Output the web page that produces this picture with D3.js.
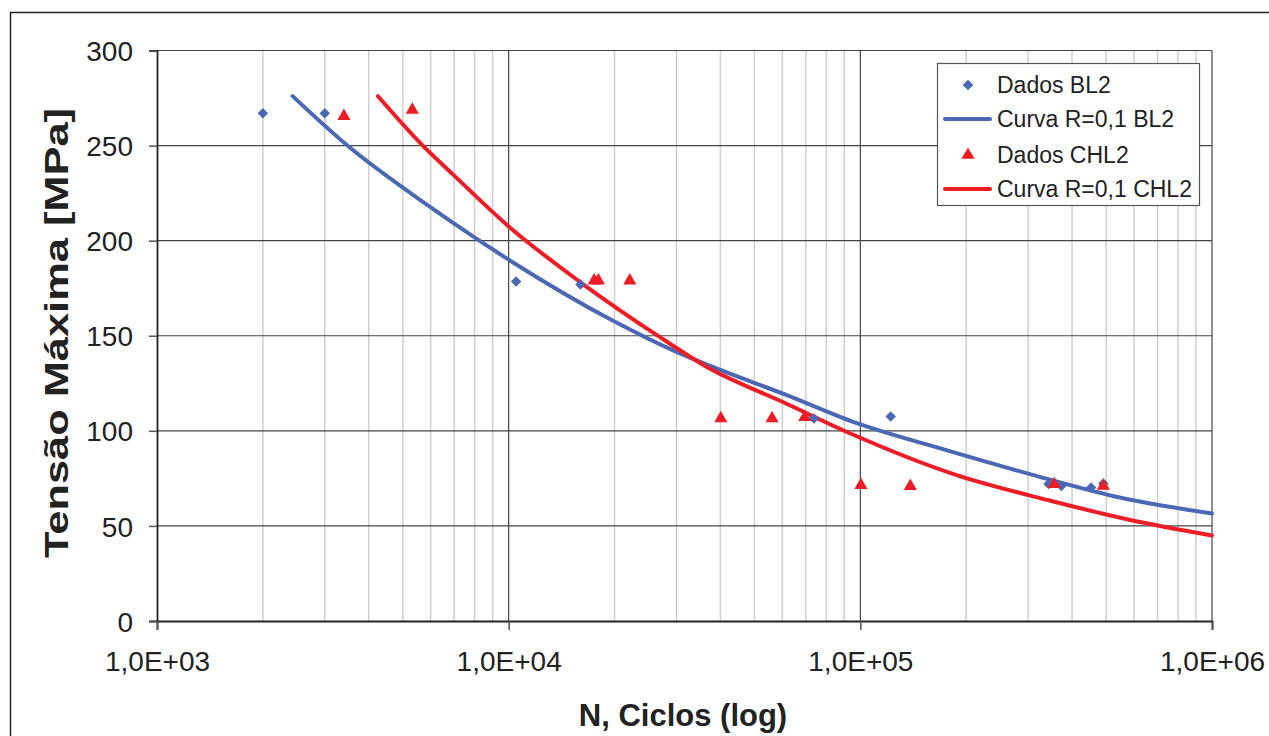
<!DOCTYPE html>
<html>
<head>
<meta charset="utf-8">
<script src="https://cdnjs.cloudflare.com/ajax/libs/d3/7.8.5/d3.min.js"></script>
<style>
    body { margin: 0; background: #fff; }
    svg text { font-family: "Liberation Sans", Arial, sans-serif; fill: #222; }
</style>
</head>
<body>
<div class="chart"></div>
<script>
// Dados (N ciclos, tensão MPa)
var dadosBL2 = [
    [2000, 267], [3000, 267], [10500, 178.5], [16000, 177],
    [73800, 106.5], [122000, 107.5], [343000, 72], [373000, 71],
    [453000, 70.2], [491000, 72.3]
];
var curvaBL2 = [
    [2430, 276], [3480, 250], [5950, 218], [10000, 190], [19750, 158],
    [30000, 141.5], [40000, 132], [61300, 119], [94500, 105],
    [167000, 91], [307000, 77], [530000, 65.5], [1000000, 56.5]
];
var dadosCHL2 = [
    [3400, 265.5], [5320, 268.8], [17500, 179], [18000, 179], [22100, 179],
    [40100, 106.5], [56100, 106.5], [69500, 107.2], [100400, 71.4],
    [138700, 70.9], [356000, 71.9], [491000, 71]
];
var curvaCHL2 = [
    [4250, 276], [5700, 250], [6930, 235], [10000, 207.5], [15900, 178.5],
    [26800, 149.5], [36300, 134], [61300, 114.5], [92700, 99],
    [186000, 77], [343000, 63.5], [590000, 53], [1000000, 45]
];
var xTicks = [1e3, 1e4, 1e5, 1e6];
var yTicks = [0, 50, 100, 150, 200, 250, 300];
var legendItems = [
    { label: "Dados BL2", type: "diamond", color: "#4a68b4" },
    { label: "Curva R=0,1 BL2", type: "line", color: "#4a68b4" },
    { label: "Dados CHL2", type: "triangle", color: "#ee1c25" },
    { label: "Curva R=0,1 CHL2", type: "line", color: "#ee1c25" }
];

var blue = "#4a68b4", red = "#ee1c25";
var width = 1269, height = 736;

var svg = d3.select(".chart").append("svg")
    .attr("width", width)
    .attr("height", height);

// moldura externa
svg.append("rect")
    .attr("x", 10.5).attr("y", 12.5)
    .attr("width", 1280).attr("height", 760)
    .attr("fill", "none").attr("stroke", "#222").attr("stroke-width", 1.5);

var x = d3.scaleLog().domain([1e3, 1e6]).range([157, 1212]);
var y = d3.scaleLinear().domain([0, 300]).range([621, 50.5]);

// grade secundária
var minor = [];
[1e3, 1e4, 1e5].forEach(function (d) {
    for (var k = 2; k <= 9; k++) minor.push(d * k);
});
svg.append("g").selectAll("line").data(minor).enter().append("line")
    .attr("x1", function (d) { return x(d); }).attr("x2", function (d) { return x(d); })
    .attr("y1", y(0)).attr("y2", y(300))
    .attr("stroke", "#cfcfcf").attr("stroke-width", 1.5);

// grade principal
svg.append("g").selectAll("line").data(yTicks.slice(1)).enter().append("line")
    .attr("x1", x(1e3)).attr("x2", x(1e6))
    .attr("y1", function (d) { return y(d); }).attr("y2", function (d) { return y(d); })
    .attr("stroke", "#444").attr("stroke-width", 1.2);
svg.append("g").selectAll("line").data(xTicks.slice(1)).enter().append("line")
    .attr("x1", function (d) { return x(d); }).attr("x2", function (d) { return x(d); })
    .attr("y1", y(0)).attr("y2", y(300))
    .attr("stroke", "#444").attr("stroke-width", 1.2);

// eixos
var yAxis = d3.axisLeft(y).tickValues(yTicks).tickSize(8).tickPadding(16);
var gy = svg.append("g").attr("transform", "translate(" + x(1e3) + ",0)").call(yAxis);
var xAxis = d3.axisBottom(x).tickValues(xTicks).tickSize(9).tickPadding(16)
    .tickFormat(function (d) { return "1,0E+0" + Math.round(Math.log10(d)); });
var gx = svg.append("g").attr("transform", "translate(0," + y(0) + ")").call(xAxis);

[gx, gy].forEach(function (g) {
    g.select(".domain").attr("stroke", "#222").attr("stroke-width", 1.8);
    g.selectAll(".tick line").attr("stroke", "#555").attr("stroke-width", 1.5);
    g.selectAll(".tick text").style("font-size", "28px").attr("fill", "#222");
});
gy.selectAll(".tick text").attr("dy", "0.36em");
gx.selectAll(".tick text").attr("dy", "0.9em");

// curvas
var line = d3.line()
    .curve(d3.curveMonotoneX)
    .x(function (d) { return x(d[0]); })
    .y(function (d) { return y(d[1]); });

svg.append("path").datum(curvaBL2)
    .attr("d", line).attr("fill", "none")
    .attr("stroke", blue).attr("stroke-width", 4).attr("stroke-linecap", "round");
svg.append("path").datum(curvaCHL2)
    .attr("d", line).attr("fill", "none")
    .attr("stroke", red).attr("stroke-width", 4).attr("stroke-linecap", "round");

var diamond = d3.symbol().type(d3.symbolDiamond2).size(70);
var triangle = d3.symbol().type(d3.symbolTriangle).size(75);

svg.append("g").selectAll("path").data(dadosBL2).enter().append("path")
    .attr("d", diamond)
    .attr("transform", function (d) { return "translate(" + x(d[0]) + "," + y(d[1]) + ")"; })
    .attr("fill", blue);
svg.append("g").selectAll("path").data(dadosCHL2).enter().append("path")
    .attr("d", triangle)
    .attr("transform", function (d) { return "translate(" + x(d[0]) + "," + y(d[1]) + ")"; })
    .attr("fill", red);

// legenda
var legend = svg.append("g");
legend.append("rect")
    .attr("x", 937.5).attr("y", 63.5).attr("width", 262).attr("height", 142)
    .attr("fill", "#fff").attr("stroke", "#555").attr("stroke-width", 1.2);
var rows = [85, 119, 155, 189];
legendItems.forEach(function (item, i) {
    var cy = rows[i];
    if (item.type === "line") {
        legend.append("line")
            .attr("x1", 945).attr("x2", 990).attr("y1", cy).attr("y2", cy)
            .attr("stroke", item.color).attr("stroke-width", 4).attr("stroke-linecap", "round");
    } else {
        legend.append("path")
            .attr("d", item.type === "diamond" ? diamond : triangle)
            .attr("transform", "translate(968," + cy + ")")
            .attr("fill", item.color);
    }
    legend.append("text")
        .attr("x", 997).attr("y", cy + 8)
        .style("font-size", "23px")
        .text(item.label);
});

// títulos dos eixos
svg.append("text")
    .attr("x", 683).attr("y", 726)
    .attr("text-anchor", "middle")
    .style("font-size", "31px").style("font-weight", "bold")
    .text("N, Ciclos (log)");
svg.append("text")
    .attr("transform", "translate(68,333) rotate(-90)")
    .attr("text-anchor", "middle")
    .attr("textLength", 450).attr("lengthAdjust", "spacingAndGlyphs")
    .style("font-size", "33px").style("font-weight", "bold")
    .text("Tensão Máxima [MPa]");
</script>
</body>
</html>
